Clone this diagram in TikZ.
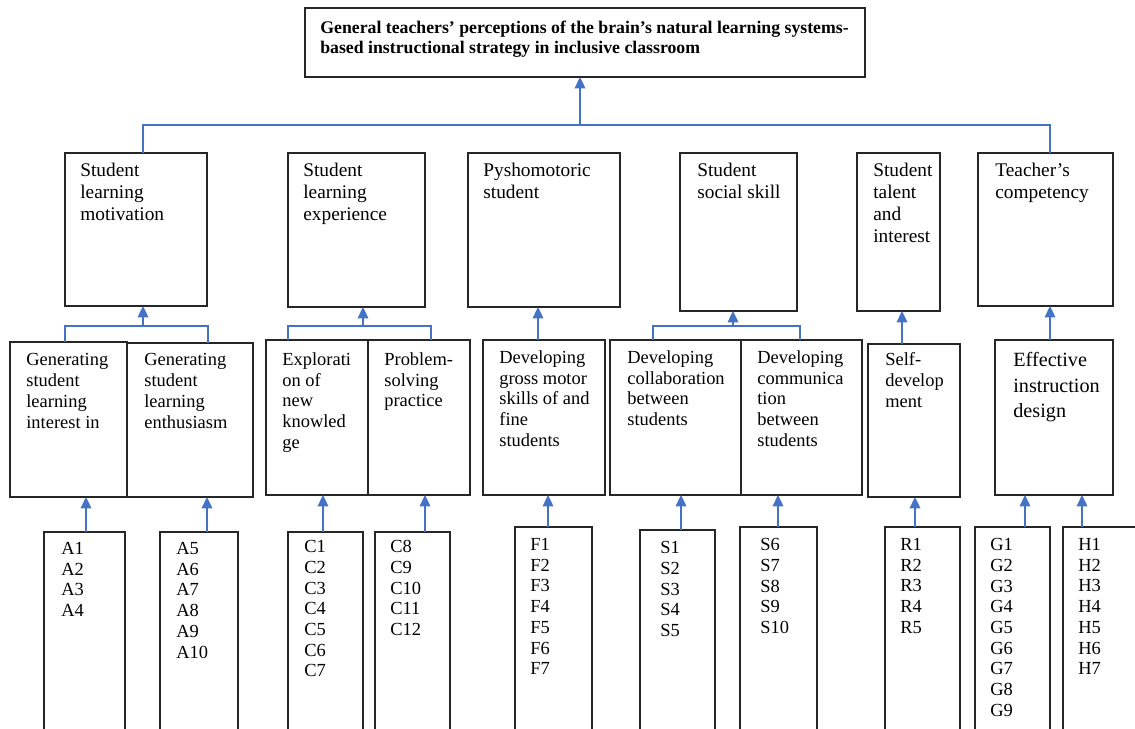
\documentclass[tikz,border=0pt]{standalone}
\usepackage{fontspec}
\setmainfont{Liberation Serif}
\usetikzlibrary{arrows.meta,calc}
\definecolor{myblue}{HTML}{4472C4}
\newcommand\mkbox[5]{\node[box, minimum width={(#4-#2)*0.02cm}, minimum height={(#5-#3)*0.02cm}] (#1) at (#2,#3) {};}
\begin{document}
\begin{tikzpicture}[x=0.02cm,y=-0.02cm,
  box/.style={draw=black!85, line width=0.9pt, anchor=north west, inner sep=0pt, outer sep=0pt},
  txt/.style={anchor=north west, inner sep=0pt, align=left, font=\fontsize{10.5}{11.9}\selectfont},
  txtb/.style={txt, font=\fontsize{11}{12.5}\selectfont},
  txtl/.style={txt, font=\fontsize{10.5}{11.8}\selectfont},
  conn/.style={draw=myblue, line width=1.1pt},
  arr/.style={conn, -{Triangle[width=6pt,length=6.5pt]}},
]
\clip (0,0) rectangle (1135,729);
\useasboundingbox (0,0) rectangle (1135,729);

% top box
\mkbox{top}{305}{8}{865}{77}
\node[txt, font=\bfseries\fontsize{10.1}{11.3}\selectfont] (topt) at (320,21) {General teachers’ perceptions of the brain’s natural learning systems-\\based instructional strategy in inclusive classroom};

% level 2
\mkbox{b1}{65}{153}{207}{306}
\mkbox{b2}{288}{153}{425}{307}
\mkbox{b3}{468}{153}{620}{307}
\mkbox{b4}{680}{153}{797}{311}
\mkbox{b5}{857}{153}{940}{311}
\mkbox{b6}{978}{153}{1113}{306}
\node[txtb] (b1t) at (80,163) {Student\\learning\\motivation};
\node[txtb] (b2t) at (303,163) {Student\\learning\\experience};
\node[txtb] (b3t) at (483,163) {Pyshomotoric\\student};
\node[txtb] (b4t) at (697,163) {Student\\social skill};
\node[txtb] (b5t) at (873,163) {Student\\talent\\and\\interest};
\node[txtb] (b6t) at (995,163) {Teacher’s\\competency};

% level 3
\mkbox{l1a}{10}{342}{127}{497}
\mkbox{l1b}{127}{343}{253}{497}
\mkbox{l2a}{266}{340}{368}{495}
\mkbox{l2b}{368}{340}{470}{495}
\mkbox{l3}{483}{340}{605}{495}
\mkbox{l4a}{610}{340}{741}{495}
\mkbox{l4b}{741}{340}{862}{495}
\mkbox{l5}{868}{344}{960}{497}
\mkbox{l6}{995}{340}{1113}{495}
\node[txt] (l1at) at (26,353) {Generating\\student\\learning\\interest in};
\node[txt] (l1bt) at (144,353) {Generating\\student\\learning\\enthusiasm};
\node[txt] (l2at) at (282,352) {Explorati\\on of\\new\\knowled\\ge};
\node[txt] (l2bt) at (384,352) {Problem-\\solving\\practice};
\node[txt] (l3t) at (499,350) {Developing\\gross motor\\skills of and\\fine\\students};
\node[txt] (l4at) at (627,350) {Developing\\collaboration\\between\\students};
\node[txt] (l4bt) at (757,350) {Developing\\communica\\tion\\between\\students};
\node[txt] (l5t) at (885,352) {Self-\\develop\\ment};
\node[txt, font=\fontsize{11.5}{14.5}\selectfont] (l6t) at (1013,352) {Effective\\instruction\\design};

% level 4
\mkbox{a}{44}{532}{125}{760}
\mkbox{a5}{160}{532}{238}{760}
\mkbox{c1}{288}{532}{363}{760}
\mkbox{c8}{375}{532}{450}{760}
\mkbox{f}{515}{527}{592}{760}
\mkbox{s1}{640}{530}{715}{760}
\mkbox{s6}{740}{527}{817}{760}
\mkbox{r}{885}{527}{960}{760}
\mkbox{g}{975}{527}{1050}{760}
\mkbox{h}{1063}{527}{1145}{760}
\node[txtl] (at) at (61,542) {A1\\A2\\A3\\A4};
\node[txtl] (a5t) at (176,542) {A5\\A6\\A7\\A8\\A9\\A10};
\node[txtl] (c1t) at (304,540) {C1\\C2\\C3\\C4\\C5\\C6\\C7};
\node[txtl] (c8t) at (390,540) {C8\\C9\\C10\\C11\\C12};
\node[txtl] (ft) at (530,538) {F1\\F2\\F3\\F4\\F5\\F6\\F7};
\node[txtl] (s1t) at (660,541) {S1\\S2\\S3\\S4\\S5};
\node[txtl] (s6t) at (760,538) {S6\\S7\\S8\\S9\\S10};
\node[txtl] (rt) at (900,538) {R1\\R2\\R3\\R4\\R5};
\node[txtl] (gt) at (990,538) {G1\\G2\\G3\\G4\\G5\\G6\\G7\\G8\\G9};
\node[txtl] (ht) at (1078,538) {H1\\H2\\H3\\H4\\H5\\H6\\H7};

% top connectors
\coordinate (hub) at (580,125);
\coordinate (hl) at (143,125);
\coordinate (hr) at (1050,125);
\draw[conn] (hl |- b1.north) -- (hl) -- (hr) -- (hr |- b6.north);
\draw[arr] (hub) -- (hub |- top.south);

% level 3 -> level 2
\coordinate (j1) at (143,326); \coordinate (j1l) at (65,326); \coordinate (j1r) at (208,326);
\draw[conn] (j1l |- l1a.north) -- (j1l) -- (j1r) -- (j1r |- l1b.north);
\draw[arr] (j1) -- (j1 |- b1.south);
\coordinate (j2) at (363,326); \coordinate (j2l) at (288,326); \coordinate (j2r) at (431,326);
\draw[conn] (j2l |- l2a.north) -- (j2l) -- (j2r) -- (j2r |- l2b.north);
\draw[arr] (j2) -- (j2 |- b2.south);
\coordinate (j3) at (538,326);
\draw[arr] (j3 |- l3.north) -- (j3 |- b3.south);
\coordinate (j4) at (733,326); \coordinate (j4l) at (653,326); \coordinate (j4r) at (800,326);
\draw[conn] (j4l |- l4a.north) -- (j4l) -- (j4r) -- (j4r |- l4b.north);
\draw[arr] (j4) -- (j4 |- b4.south);
\coordinate (j5) at (902,326);
\draw[arr] (j5 |- l5.north) -- (j5 |- b5.south);
\coordinate (j6) at (1050,326);
\draw[arr] (j6 |- l6.north) -- (j6 |- b6.south);

% level 4 -> level 3
\coordinate (pa) at (86,0);   \draw[arr] (pa |- a.north) -- (pa |- l1a.south);
\coordinate (pa5) at (207,0); \draw[arr] (pa5 |- a5.north) -- (pa5 |- l1b.south);
\coordinate (pc1) at (323,0); \draw[arr] (pc1 |- c1.north) -- (pc1 |- l2a.south);
\coordinate (pc8) at (425,0); \draw[arr] (pc8 |- c8.north) -- (pc8 |- l2b.south);
\coordinate (pf) at (548,0);  \draw[arr] (pf |- f.north) -- (pf |- l3.south);
\coordinate (ps1) at (681,0); \draw[arr] (ps1 |- s1.north) -- (ps1 |- l4a.south);
\coordinate (ps6) at (778,0); \draw[arr] (ps6 |- s6.north) -- (ps6 |- l4b.south);
\coordinate (pr) at (915,0);  \draw[arr] (pr |- r.north) -- (pr |- l5.south);
\coordinate (pg) at (1025,0); \draw[arr] (pg |- g.north) -- (pg |- l6.south);
\coordinate (ph) at (1082,0); \draw[arr] (ph |- h.north) -- (ph |- l6.south);
\end{tikzpicture}
\end{document}
